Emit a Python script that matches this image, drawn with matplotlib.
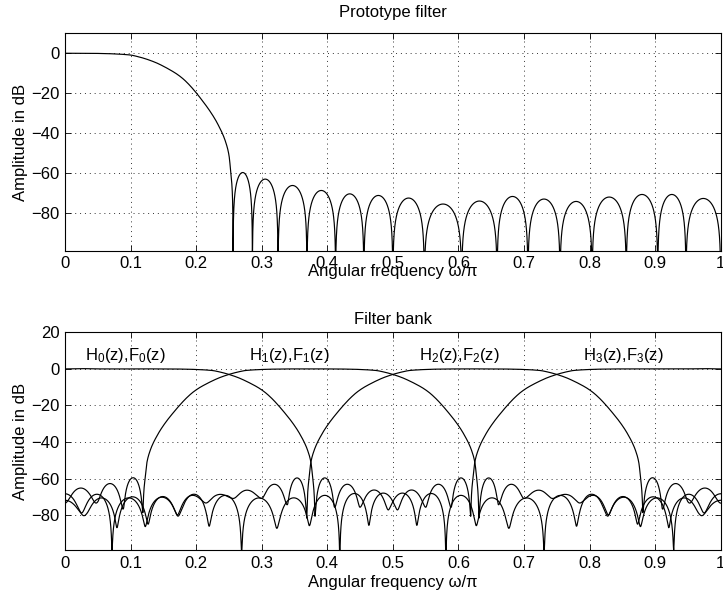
import numpy as np
import matplotlib
matplotlib.use("Agg")
import matplotlib.pyplot as plt

plt.rcParams['font.family'] = ['Liberation Sans', 'DejaVu Sans']
plt.rcParams['mathtext.default'] = 'regular'

# ---------------- data ----------------
# prototype filter passband (normalised frequency, dB)
pass_w = [0.0, 0.03, 0.06, 0.08, 0.09, 0.10, 0.11, 0.12, 0.13, 0.14, 0.15,
          0.16, 0.17, 0.18, 0.19, 0.20, 0.21, 0.22, 0.23, 0.235, 0.24, 0.245,
          0.25, 0.2535]
pass_db = [0.0, -0.02, -0.15, -0.4, -0.6, -0.9, -1.6, -2.5, -3.6, -4.9, -6.5,
           -8.3, -10.3, -12.8, -16.0, -19.8, -24.0, -28.5, -33.7, -36.8, -40.2,
           -44.5, -51.0, -62.0]
# prototype stopband: zero positions and side-lobe peak levels (dB)
null_w = [0.2563, 0.2858, 0.3249, 0.369, 0.4127, 0.4558, 0.5, 0.548, 0.605,
          0.659, 0.706, 0.755, 0.804, 0.856, 0.904, 0.947, 1.0]
lobe_db = [-59.8, -63.1, -66.3, -68.8, -70.5, -71.3, -72.6, -75.6, -74.1,
           -71.8, -73.1, -74.3, -72.1, -70.8, -70.8, -72.8]
# filter bank: channel centre frequencies and labels
band_centers = [0.125, 0.375, 0.625, 0.875]
band_labels = ['H$_0$(z),F$_0$(z)', 'H$_1$(z),F$_1$(z)',
               'H$_2$(z),F$_2$(z)', 'H$_3$(z),F$_3$(z)']
label_x = [0.03, 0.28, 0.54, 0.79]
label_y = 7.5

xticks = [0, 0.1, 0.2, 0.3, 0.4, 0.5, 0.6, 0.7, 0.8, 0.9, 1.0]
xticklabels = ['0', '0.1', '0.2', '0.3', '0.4', '0.5', '0.6', '0.7', '0.8', '0.9', '1']
yticks_top = [-80, -60, -40, -20, 0]
yticks_bot = [-80, -60, -40, -20, 0, 20]


def smooth_curve(x, y, xn):
    """Monotone cubic (PCHIP) curve through the read points."""
    x = np.asarray(x, float)
    y = np.asarray(y, float)
    h = np.diff(x)
    d = np.diff(y) / h
    m = np.zeros_like(y)
    for k in range(1, len(x) - 1):
        if d[k - 1] * d[k] > 0:
            w1 = 2 * h[k] + h[k - 1]
            w2 = h[k] + 2 * h[k - 1]
            m[k] = (w1 + w2) / (w1 / d[k - 1] + w2 / d[k])
    m[0] = d[0]
    m[-1] = d[-1]
    i = np.clip(np.searchsorted(x, xn) - 1, 0, len(x) - 2)
    t = (xn - x[i]) / h[i]
    h00 = 2 * t ** 3 - 3 * t ** 2 + 1
    h10 = t ** 3 - 2 * t ** 2 + t
    h01 = -2 * t ** 3 + 3 * t ** 2
    h11 = t ** 3 - t ** 2
    return h00 * y[i] + h10 * h[i] * m[i] + h01 * y[i + 1] + h11 * h[i] * m[i + 1]


def proto_amp(w):
    """Magnitude of the prototype (read passband + read side lobes)."""
    u = np.abs(np.mod(np.asarray(w, float) + 1.0, 2.0) - 1.0)
    amp = np.zeros_like(u)
    m = u <= pass_w[-1]
    amp[m] = 10 ** (smooth_curve(pass_w, pass_db, u[m]) / 20)
    m = (u > pass_w[-1]) & (u < null_w[0])
    a_end = 10 ** (pass_db[-1] / 20)
    amp[m] = a_end * (null_w[0] - u[m]) / (null_w[0] - pass_w[-1])
    for a, b, lvl in zip(null_w[:-1], null_w[1:], lobe_db):
        m = (u >= a) & (u <= b)
        amp[m] = 10 ** (lvl / 20) * np.abs(np.sin(np.pi * (u[m] - a) / (b - a)))
    return amp


def to_db(a):
    return 20 * np.log10(np.maximum(a, 1e-15))


fig = plt.figure(figsize=(7.23, 5.91), dpi=100)
ax1 = fig.add_axes([65 / 723, 1 - 250.7 / 591, 655.7 / 723, 217.4 / 591])
ax2 = fig.add_axes([65 / 723, 1 - 550.0 / 591, 655.7 / 723, 217.7 / 591])

w = np.union1d(np.linspace(0, 1, 10001), null_w)
ax1.plot(w, to_db(proto_amp(w)), color='k', lw=0.85)

for wk in band_centers:
    hk = np.sqrt(proto_amp(w - wk) ** 2 + proto_amp(w + wk) ** 2)
    ax2.plot(w, to_db(hk), color='k', lw=0.85)

fs = 12
for x, s in zip(label_x, band_labels):
    ax2.text(x, label_y, s, ha='left', va='center', fontsize=fs)

for ax, yt, ylim, title, tpad, xpad in [
        (ax1, yticks_top, (-99, 10), 'Prototype filter', 12, -5),
        (ax2, yticks_bot, (-99, 20), 'Filter bank', 6, 3)]:
    ax.set_xlim(0, 1)
    ax.set_ylim(*ylim)
    ax.set_xticks(xticks)
    ax.set_xticklabels(xticklabels)
    ax.set_yticks(yt)
    ax.tick_params(direction='in', top=True, right=True, length=4,
                   width=0.6, labelsize=fs, pad=4)
    ax.grid(True, linestyle=(0, (1, 4)), color='0.2', lw=0.7)
    for sp in ax.spines.values():
        sp.set_linewidth(0.8)
    ax.set_xlabel('Angular frequency ω/π', fontsize=fs, labelpad=xpad)
    ax.set_ylabel('Amplitude in dB', fontsize=fs, labelpad=2)
    ax.set_title(title, fontsize=fs, pad=tpad)

fig.savefig('out.png', dpi=100)
